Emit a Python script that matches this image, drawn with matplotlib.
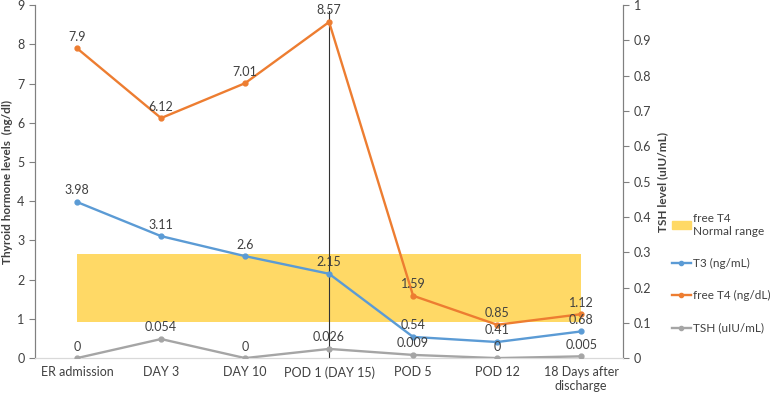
import matplotlib
matplotlib.use("Agg")
import matplotlib.pyplot as plt
from matplotlib.lines import Line2D
from matplotlib.patches import Patch

categories = ["ER admission", "DAY 3", "DAY 10", "POD 1 (DAY 15)", "POD 5", "POD 12", "18 Days after\ndischarge"]
t3 = [3.98, 3.11, 2.6, 2.15, 0.54, 0.41, 0.68]
ft4 = [7.9, 6.12, 7.01, 8.57, 1.59, 0.85, 1.12]
tsh = [0, 0.054, 0, 0.026, 0.009, 0, 0.005]
tsh_labels = ["0", "0.054", "0", "0.026", "0.009", "0", "0.005"]
band_low, band_high = 0.92, 2.65

plt.rcParams['font.family'] = ['Lato', 'DejaVu Sans']
fig = plt.figure(figsize=(7.78, 3.97), dpi=100)
ax = fig.add_axes([0.045, 0.098, 0.756, 0.889])
ax2 = ax.twinx()

x = list(range(len(categories)))
blue, orange, gray, yellow = "#5B9BD5", "#ED7D31", "#A5A5A5", "#FFD966"
txt = "#404040"
fs = 9

ax.fill_between([x[0], x[-1]], band_low, band_high, color=yellow, lw=0, zorder=1)
ax.plot(x, t3, color=blue, lw=1.7, marker='o', ms=3.5, zorder=3)
ax.plot(x, ft4, color=orange, lw=1.7, marker='o', ms=3.5, zorder=3)
ax.plot([3, 3], [-0.2, 8.85], color="#333333", lw=0.8, zorder=2)
ax2.plot(x, tsh, color=gray, lw=1.7, marker='o', ms=3.5, zorder=3)

for i in x:
    ax.annotate(f"{t3[i]:g}", (i, t3[i]), xytext=(0, 4), textcoords='offset points', ha='center', va='bottom', fontsize=fs, color=txt)
    ax.annotate(f"{ft4[i]:g}", (i, ft4[i]), xytext=(0, 4), textcoords='offset points', ha='center', va='bottom', fontsize=fs, color=txt)
    ax2.annotate(tsh_labels[i], (i, tsh[i]), xytext=(0, 4), textcoords='offset points', ha='center', va='bottom', fontsize=fs, color=txt)

ax.set_xlim(-0.5, 6.5)
ax.set_ylim(0, 9)
ax2.set_ylim(0, 1)
ax.set_xticks(x)
ax.set_xticklabels(categories, fontsize=fs, color=txt)
ax.set_yticks(range(0, 10))
ax2.set_yticks([i / 10 for i in range(11)])
ax2.set_yticklabels(["0", "0.1", "0.2", "0.3", "0.4", "0.5", "0.6", "0.7", "0.8", "0.9", "1"])
ax.tick_params(axis='y', labelsize=fs, colors=txt, direction='out', length=4, color="#808080")
ax2.tick_params(axis='y', labelsize=fs, colors=txt, direction='out', length=4, color="#808080")
ax.tick_params(axis='x', length=0, pad=6)
ax.set_ylabel("Thyroid hormone levels  (ng/dl)", fontsize=8.5, color=txt, fontweight='bold', labelpad=3)
ax2.set_ylabel("TSH level (uIU/mL)", fontsize=8.5, color=txt, fontweight='bold', labelpad=4)

for a in (ax, ax2):
    a.spines['top'].set_visible(False)
    a.spines['left'].set_color("#808080")
    a.spines['right'].set_color("#808080")
    a.spines['bottom'].set_color("#D9D9D9")

handles = [Patch(color=yellow), Line2D([], [], color=blue, marker='o', ms=3, lw=1.7),
           Line2D([], [], color=orange, marker='o', ms=3, lw=1.7), Line2D([], [], color=gray, marker='o', ms=3, lw=1.7)]
labels = ["free T4\nNormal range", "T3 (ng/mL)", "free T4 (ng/dL)", "TSH (uIU/mL)"]
fig.legend(handles, labels, loc='upper left', bbox_to_anchor=(0.85, 0.49), frameon=False, fontsize=8.5,
           labelcolor=txt, handlelength=1.6, handletextpad=0.15, labelspacing=1.8)

fig.savefig("out.png", dpi=100)
